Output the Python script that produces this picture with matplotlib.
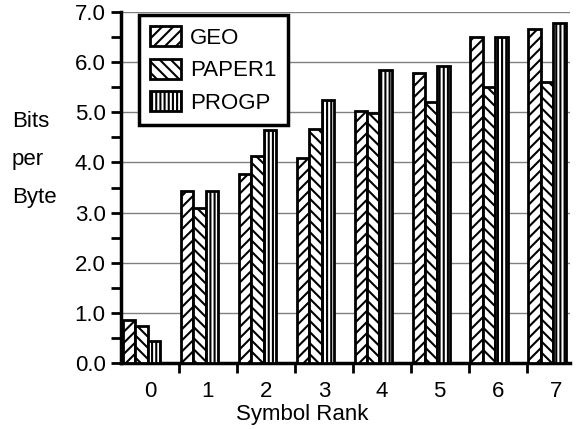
import numpy as np
import matplotlib
matplotlib.use("Agg")
import matplotlib.pyplot as plt
from matplotlib.ticker import MultipleLocator

plt.rcParams['font.family'] = ['Liberation Sans', 'DejaVu Sans']
plt.rcParams['hatch.linewidth'] = 1.5

ranks = [0, 1, 2, 3, 4, 5, 6, 7]
geo = [0.85, 3.43, 3.76, 4.08, 5.03, 5.78, 6.51, 6.67]
paper1 = [0.73, 3.10, 4.12, 4.66, 4.98, 5.20, 5.50, 5.61]
progp = [0.44, 3.43, 4.65, 5.24, 5.84, 5.93, 6.51, 6.79]

fig = plt.figure(figsize=(5.8, 4.29), dpi=100)
ax = fig.add_axes([0.2086, 0.1538, 0.7744, 0.8182])

x = np.array(ranks)
w = 0.22
ax.bar(x - 0.36, geo, w, color='white', edgecolor='black', linewidth=2, hatch='///', label='GEO', zorder=3)
ax.bar(x - 0.15, paper1, w, color='white', edgecolor='black', linewidth=2, hatch='\\\\\\', label='PAPER1', zorder=3)
ax.bar(x + 0.07, progp, w, color='white', edgecolor='black', linewidth=2, hatch='||||', label='PROGP', zorder=3)

ax.set_xlim(-0.5, 7.25)
ax.set_ylim(0, 7.0)
ax.set_yticks(np.arange(0, 7.5, 1.0))
ax.set_yticklabels([f"{v:.1f}" for v in np.arange(0, 7.5, 1.0)])
ax.yaxis.set_minor_locator(MultipleLocator(0.5))
ax.set_xticks(ranks)
ax.set_xticklabels([str(r) for r in ranks])
ax.set_xticks(np.arange(0.5, 7, 1.0), minor=True)

ax.tick_params(axis='y', which='both', direction='out', length=7, width=2, labelsize=16, pad=4)
ax.tick_params(axis='x', which='major', length=0, labelsize=16, pad=13)
ax.tick_params(axis='x', which='minor', direction='out', length=7, width=2)

ax.grid(axis='y', color='#808080', linewidth=1, zorder=0)
ax.set_axisbelow(True)
for s in ['top', 'right']:
    ax.spines[s].set_visible(False)
for s in ['left', 'bottom']:
    ax.spines[s].set_linewidth(2.5)

leg = ax.legend(loc='upper left', bbox_to_anchor=(0.04, 0.991), borderaxespad=0,
                fontsize=16, frameon=True, fancybox=False, handlelength=1.4,
                handleheight=1.0, labelspacing=0.45, handletextpad=0.4, borderpad=0.5)
leg.get_frame().set_edgecolor('black')
leg.get_frame().set_linewidth(2.5)
leg.get_frame().set_alpha(1)
leg.set_zorder(5)

# y label: three words on separate lines
for word, yb in zip(["Bits", "per", "Byte"], [127, 165, 203]):
    fig.text(12 / 580, 1 - yb / 429, word, fontsize=16, ha='left', va='baseline')
fig.text(302 / 580, 1 - 420 / 429, "Symbol Rank", fontsize=16, ha='center', va='baseline')

fig.savefig("out.png", dpi=100)
